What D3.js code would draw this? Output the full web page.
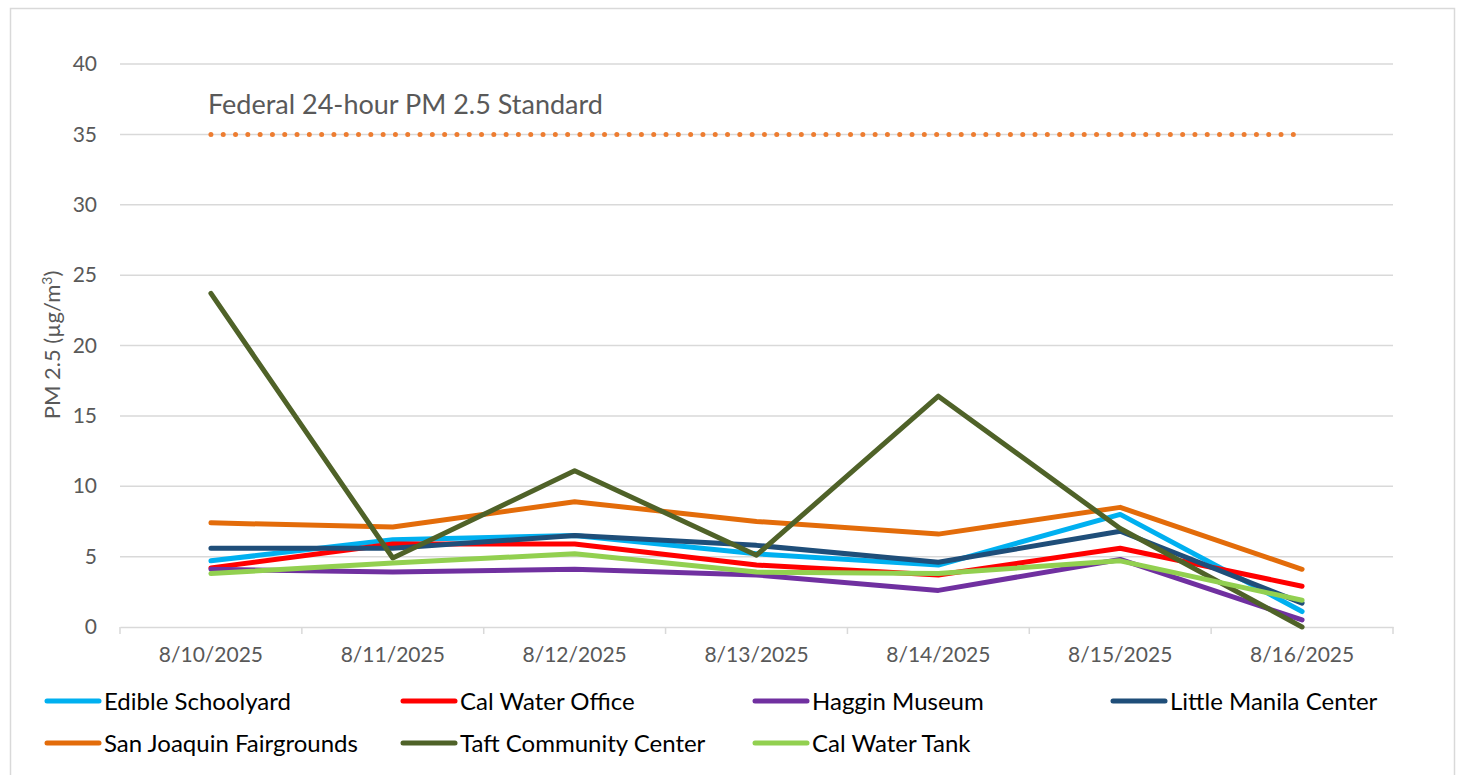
<!DOCTYPE html>
<html>
<head>
<meta charset="utf-8">
<script src="https://cdn.jsdelivr.net/npm/d3@7"></script>
<style>
  body { margin: 0; background: #fff; }
  svg { display: block; }
  text { font-family: Lato, "Noto Sans", sans-serif; }
</style>
</head>
<body>
<svg id="chart"></svg>
<script>
// categories
const dates = ['8/10/2025', '8/11/2025', '8/12/2025', '8/13/2025', '8/14/2025', '8/15/2025', '8/16/2025'];

// series values (PM 2.5, µg/m³)
const edibleSchoolyard = [4.7, 6.2, 6.5, 5.2, 4.4, 8.0, 1.1];
const calWaterOffice   = [4.2, 5.9, 5.9, 4.4, 3.7, 5.6, 2.9];
const hagginMuseum     = [4.1, 3.9, 4.1, 3.7, 2.6, 4.8, 0.5];
const littleManila     = [5.6, 5.6, 6.5, 5.8, 4.6, 6.8, 1.7];
const sanJoaquin       = [7.4, 7.1, 8.9, 7.5, 6.6, 8.5, 4.1];
const taftCommunity    = [23.7, 4.9, 11.1, 5.1, 16.4, 7.0, 0.0];
const calWaterTank     = [3.8, 4.55, 5.2, 3.9, 3.8, 4.7, 1.9];
const federalStandard  = [35, 35, 35, 35, 35, 35, 35];

const seriesNames = ['Edible Schoolyard', 'Cal Water Office', 'Haggin Museum', 'Little Manila Center',
                     'San Joaquin Fairgrounds', 'Taft Community Center', 'Cal Water Tank'];
const seriesColors = ['#00b0f0', '#ff0000', '#7030a0', '#1f4e79', '#e36c0a', '#4f6228', '#92d050'];
const seriesValues = [edibleSchoolyard, calWaterOffice, hagginMuseum, littleManila, sanJoaquin, taftCommunity, calWaterTank];

// y ticks
const yTicks = [0, 5, 10, 15, 20, 25, 30, 35, 40];

const standardLabel = 'Federal 24-hour PM 2.5 Standard';

const W = 1458, H = 775;
const plot = {left: 120, right: 1393, top: 64, bottom: 627};

const svg = d3.select('#chart').attr('width', W).attr('height', H);

// outer chart border
svg.append('rect')
    .attr('x', 10.5).attr('y', 8.5)
    .attr('width', 1444).attr('height', 800)
    .attr('fill', '#fff')
    .attr('stroke', '#d9d9d9')
    .attr('stroke-width', 1.5);

const xScale = d3.scaleBand()
    .domain(dates)
    .range([plot.left, plot.right]);
const xc = d => xScale(d) + xScale.bandwidth() / 2;

const yScale = d3.scaleLinear()
    .domain([0, 40])
    .range([plot.bottom, plot.top]);

// gridlines
svg.append('g')
    .selectAll('line')
    .data(yTicks.filter(t => t > 0))
    .enter()
    .append('line')
        .attr('x1', plot.left).attr('x2', plot.right)
        .attr('y1', d => yScale(d)).attr('y2', d => yScale(d))
        .attr('stroke', '#d9d9d9')
        .attr('stroke-width', 1.5);

// y axis labels
const yAxis = d3.axisLeft(yScale).tickValues(yTicks).tickSize(0).tickPadding(23);
const yAxisGroup = svg.append('g')
    .attr('transform', `translate(${plot.left}, 0)`)
    .call(yAxis);
yAxisGroup.select('.domain').remove();
yAxisGroup.selectAll('text')
    .attr('fill', '#595959')
    .style('font-size', '21px')
    .style('font-family', 'Lato, "Noto Sans", sans-serif');

// x axis
const xAxis = d3.axisBottom(xScale).tickSize(0).tickPadding(20);
const xAxisGroup = svg.append('g')
    .attr('transform', `translate(0, ${plot.bottom})`)
    .call(xAxis);
xAxisGroup.select('.domain')
    .attr('stroke', '#d9d9d9')
    .attr('stroke-width', 1.5);
xAxisGroup.selectAll('text')
    .attr('fill', '#595959')
    .style('font-size', '21px')
    .style('font-family', 'Lato, "Noto Sans", sans-serif');

// category boundary ticks
const bounds = dates.map(d => xScale(d)).concat([plot.right]);
svg.append('g')
    .selectAll('line')
    .data(bounds)
    .enter()
    .append('line')
        .attr('x1', d => d).attr('x2', d => d)
        .attr('y1', plot.bottom).attr('y2', plot.bottom + 7)
        .attr('stroke', '#d9d9d9')
        .attr('stroke-width', 1.5);

// y axis title
svg.append('text')
    .attr('transform', `translate(60, 345) rotate(-90)`)
    .attr('text-anchor', 'middle')
    .attr('fill', '#595959')
    .style('font-size', '22px')
    .html('PM 2.5 (µg/m<tspan dy="-8" font-size="14px">3</tspan><tspan dy="8">)</tspan>');

// federal standard (dotted)
const line = d3.line()
    .x((d, i) => xc(dates[i]))
    .y(d => yScale(d));

svg.append('path')
    .datum(federalStandard)
    .attr('d', line)
    .attr('fill', 'none')
    .attr('stroke', '#ed7d31')
    .attr('stroke-width', 5)
    .attr('stroke-linecap', 'round')
    .attr('stroke-dasharray', '0 12.3');

svg.append('text')
    .attr('x', 208)
    .attr('y', yScale(35) - 20)
    .attr('fill', '#595959')
    .style('font-size', '27px')
    .text(standardLabel);

// series lines
svg.append('g')
    .selectAll('path')
    .data(seriesValues)
    .enter()
    .append('path')
        .attr('d', line)
        .attr('fill', 'none')
        .attr('stroke', (d, i) => seriesColors[i])
        .attr('stroke-width', 5)
        .attr('stroke-linecap', 'round')
        .attr('stroke-linejoin', 'round');

// legend
const legendCols = [45, 401, 753, 1111];
const legendRows = [701, 743];
const legend = svg.append('g')
    .selectAll('g')
    .data(seriesNames)
    .enter()
    .append('g')
        .attr('transform', (d, i) => `translate(${legendCols[i % 4]}, ${legendRows[Math.floor(i / 4)]})`);

legend.append('line')
    .attr('x1', 2).attr('x2', 54)
    .attr('y1', 0).attr('y2', 0)
    .attr('stroke', (d, i) => seriesColors[i])
    .attr('stroke-width', 5)
    .attr('stroke-linecap', 'round');

legend.append('text')
    .attr('x', 59)
    .attr('y', 9)
    .attr('fill', '#000')
    .style('font-size', '24px')
    .text(d => d);
</script>
</body>
</html>
